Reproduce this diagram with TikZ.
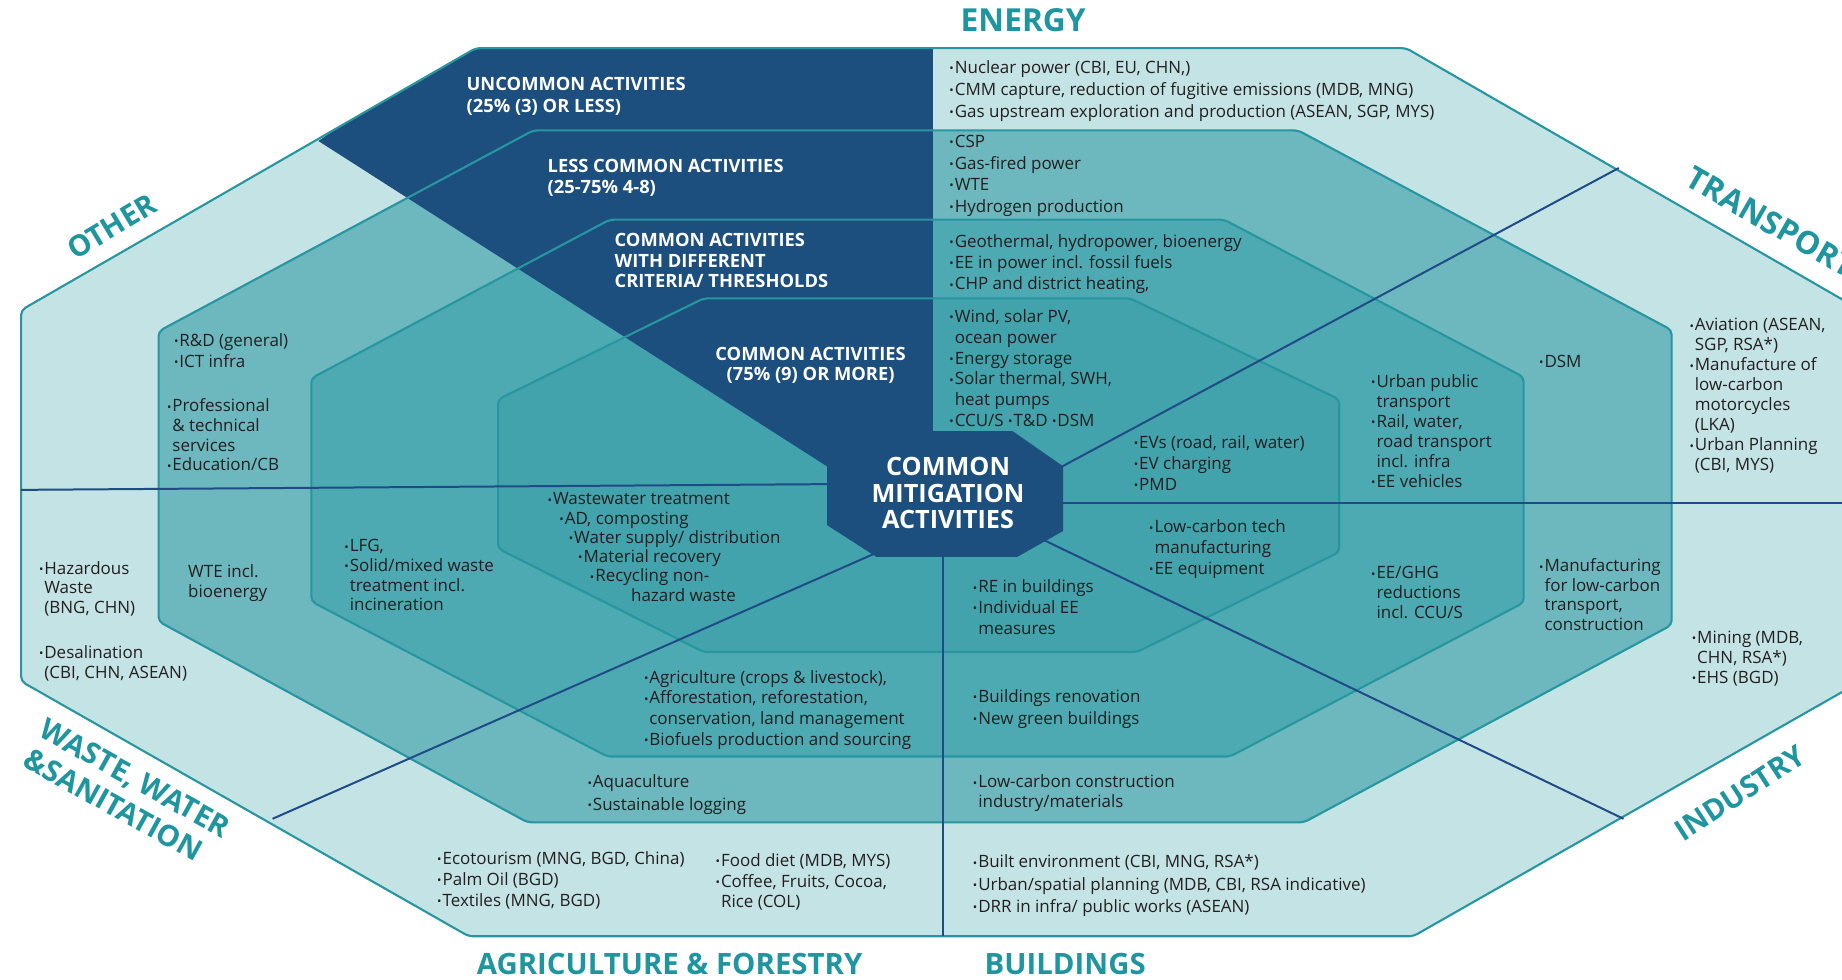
\documentclass[tikz,border=0pt]{standalone}
\usepackage{fontspec}
\setmainfont{Open Sans}
\newfontfamily\hfont{Open Sans}
\definecolor{octL}{HTML}{C4E3E5}
\definecolor{octM}{HTML}{6CB8BE}
\definecolor{octD}{HTML}{4DAAB2}
\definecolor{octI}{HTML}{42A3AC}
\definecolor{darkband}{HTML}{1C4E7E}
\definecolor{octedge}{HTML}{2796A0}
\definecolor{divblue}{HTML}{1F4C86}
\definecolor{sectorteal}{HTML}{1E959F}
\definecolor{bodytext}{HTML}{231F20}
\newcommand\bul{{\raisebox{0.6pt}{\fontsize{10}{10}\selectfont •}}\kern0.8pt}
\newcommand\bulsp{\hphantom{\bul}}
\newcommand\mystrut{\rule{0pt}{12pt}}
% block: [baselineskip]{name}{x}{y of first line centre}{text}
\newcommand\blk[5][17.5]{\node[body, font=\fontsize{14.45}{#1}\selectfont, name=#2] at (#3,{#4-7.5}) {\mystrut#5};}
\newcommand\lgd[5][18]{\node[legend, font=\hfont\bfseries\fontsize{15.6}{#1}\selectfont, name=#2] at (#3,{#4-6.4}) {\mystrut#5};}
\begin{document}
\begin{tikzpicture}[x=1pt,y=-1pt,
  octline/.style={draw=octedge, line width=1.8pt, rounded corners=4pt},
  octfill/.style={rounded corners=4pt},
  divider/.style={draw=divblue, line width=1.7pt},
  body/.style={text=bodytext, align=left, anchor=north west, inner sep=0pt},
  legend/.style={text=white, align=left, anchor=north west, inner sep=0pt},
  sector/.style={font=\hfont\bfseries\fontsize{25}{30}\selectfont, text=sectorteal, inner sep=0pt, align=left},
]
\useasboundingbox (0,0) rectangle (1568,834);
\clip (0,0) rectangle (1568,834);

% octagon vertices
\coordinate (o1a) at (18,264);  \coordinate (o1b) at (405,41);  \coordinate (o1c) at (1197,41);  \coordinate (o1d) at (1584,264);
\coordinate (o1e) at (1584,580);\coordinate (o1f) at (1203,797);\coordinate (o1g) at (399,797);  \coordinate (o1h) at (18,580);
\coordinate (o2a) at (135,282); \coordinate (o2b) at (454,111); \coordinate (o2c) at (1105,111); \coordinate (o2d) at (1423,281);
\coordinate (o2e) at (1423,532);\coordinate (o2f) at (1110,700);\coordinate (o2g) at (449,700);  \coordinate (o2h) at (135,529);
\coordinate (o3a) at (265,322); \coordinate (o3b) at (519,187); \coordinate (o3c) at (1042,187); \coordinate (o3d) at (1297,321);
\coordinate (o3e) at (1297,513);\coordinate (o3f) at (1047,644);\coordinate (o3g) at (517,644);  \coordinate (o3h) at (265,512);
\coordinate (o4a) at (424,340); \coordinate (o4b) at (599,254); \coordinate (o4c) at (962,254);  \coordinate (o4d) at (1140,340);
\coordinate (o4e) at (1140,470);\coordinate (o4f) at (968,555); \coordinate (o4g) at (599,555);  \coordinate (o4h) at (424,467);
\coordinate (c1) at (704,397); \coordinate (c2) at (746,367); \coordinate (c3) at (862,367); \coordinate (c4) at (905,397);
\coordinate (c5) at (905,452); \coordinate (c6) at (866,474); \coordinate (c7) at (746,474); \coordinate (c8) at (704,447);

% fills
\fill[octL, octfill] (o1a) -- (o1b) -- (o1c) -- (o1d) -- (o1e) -- (o1f) -- (o1g) -- (o1h) -- cycle;
\fill[octM, octfill] (o2a) -- (o2b) -- (o2c) -- (o2d) -- (o2e) -- (o2f) -- (o2g) -- (o2h) -- cycle;
\fill[octD, octfill] (o3a) -- (o3b) -- (o3c) -- (o3d) -- (o3e) -- (o3f) -- (o3g) -- (o3h) -- cycle;
\fill[octI, octfill] (o4a) -- (o4b) -- (o4c) -- (o4d) -- (o4e) -- (o4f) -- (o4g) -- (o4h) -- cycle;

% dark legend band
\begin{scope}
\clip[octfill] (o1a) -- (o1b) -- (o1c) -- (o1d) -- (o1e) -- (o1f) -- (o1g) -- (o1h) -- cycle;
\fill[darkband] (271,120) -- (405,30) -- (794,30) -- (794,380) -- (c1) -- cycle;
\end{scope}

% outlines
\draw[octline] (o4a) -- (o4b) -- (o4c) -- (o4d) -- (o4e) -- (o4f) -- (o4g) -- (o4h) -- cycle;
\draw[octline] (o3a) -- (o3b) -- (o3c) -- (o3d) -- (o3e) -- (o3f) -- (o3g) -- (o3h) -- cycle;
\draw[octline] (o2a) -- (o2b) -- (o2c) -- (o2d) -- (o2e) -- (o2f) -- (o2g) -- (o2h) -- cycle;
\draw[octline] (o1a) -- (o1b) -- (o1c) -- (o1d) -- (o1e) -- (o1f) -- (o1g) -- (o1h) -- cycle;

% sector dividers
\coordinate (dL0) at (720,412);  \coordinate (dL1) at (18,417);
\coordinate (dR0) at (890,428);  \coordinate (dR1) at (1584,428);
\coordinate (dB0) at (803,460);  \coordinate (dB1) at (803,797);
\coordinate (dUR0) at (880,410); \coordinate (dUR1) at (1378,143);
\coordinate (dLR0) at (860,446); \coordinate (dLR1) at (1382,697);
\coordinate (dLL0) at (770,460); \coordinate (dLL1) at (232,697);
\draw[divider] (dL0) -- (dL1);
\draw[divider] (dR0) -- (dR1);
\draw[divider] (dB0) -- (dB1);
\draw[divider] (dUR0) -- (dUR1);
\draw[divider] (dLR0) -- (dLR1);
\draw[divider] (dLL0) -- (dLL1);

% centre octagon
\fill[darkband] (c1) -- (c2) -- (c3) -- (c4) -- (c5) -- (c6) -- (c7) -- (c8) -- cycle;
\node[font=\hfont\bfseries\fontsize{21.5}{22.5}\selectfont, text=white, align=center, inner sep=0pt] (centre) at (807,420) {COMMON\\MITIGATION\\ACTIVITIES};

% legend labels
\lgd[18.5]{lg1}{397}{71.5}{UNCOMMON ACTIVITIES\\(25\% (3) OR LESS)}
\lgd[18]{lg2}{466}{141}{LESS COMMON ACTIVITIES\\(25-75\% 4-8)}
\lgd[17.5]{lg3}{523}{204}{COMMON ACTIVITIES\\WITH DIFFERENT\\CRITERIA/ THRESHOLDS}
\node[legend, anchor=north, align=center, font=\hfont\bfseries\fontsize{15.6}{17}\selectfont] (lg4) at (690,{301-6.4}) {\mystrut COMMON ACTIVITIES\\(75\% (9) OR MORE)};

% sector titles
\node[sector, font=\hfont\bfseries\fontsize{27}{30}\selectfont] (energy) at (871,17) {ENERGY};
\node[sector, anchor=base west, rotate=-30, font=\hfont\bfseries\fontsize{27}{30}\selectfont] (transport) at (1433,157) {TRANSPORT};
\node[sector, rotate=31] (other) at (95,193) {OTHER};
\node[sector, rotate=-29, font=\hfont\bfseries\fontsize{25}{29}\selectfont] (waste) at (108,675) {WASTE, WATER\\\&SANITATION};
\node[sector, rotate=33] (industry) at (1481,675) {INDUSTRY};
\node[sector] (agri) at (570,821) {AGRICULTURE \& FORESTRY};
\node[sector, anchor=west] (buildings) at (838,821) {BUILDINGS};

% energy
\blk[18.5]{e1}{808}{58}{\bul Nuclear power (CBI, EU, CHN,)\\\bul CMM capture, reduction of fugitive emissions (MDB, MNG)\\\bul Gas upstream exploration and production (ASEAN, SGP, MYS)}
\blk[18.3]{e2}{808}{121}{\bul CSP\\\bul Gas-fired power\\\bul WTE\\\bul Hydrogen production}
\blk[18]{e3}{808}{206}{\bul Geothermal, hydropower, bioenergy\\\bul EE in power incl. fossil fuels\\\bul CHP and district heating,}
\blk[17.6]{e4}{808}{270}{\bul Wind, solar PV,\\\bulsp ocean power\\\bul Energy storage\\\bul Solar thermal, SWH,\\\bulsp heat pumps\\\bul CCU/S \bul T\&D \bul DSM}

% transport
\blk[18]{t4}{965}{377}{\bul EVs (road, rail, water)\\\bul EV charging\\\bul PMD}
\blk[17]{t3}{1167}{325}{\bul Urban public\\\bulsp transport\\\bul Rail, water,\\\bulsp road transport\\\bulsp incl. infra\\\bul EE vehicles}
\blk{t2}{1310}{308}{\bul DSM}
\blk[17]{t1}{1438}{277}{\bul Aviation (ASEAN,\\\bulsp SGP, RSA*)\\\bul Manufacture of\\\bulsp low-carbon\\\bulsp motorcycles\\\bulsp (LKA)\\\bul Urban Planning\\\bulsp (CBI, MYS)}

% industry
\blk[17.5]{i4}{978}{449}{\bul Low-carbon tech\\\bulsp manufacturing\\\bul EE equipment}
\blk[17]{i3}{1167}{488}{\bul EE/GHG\\\bulsp reductions\\\bulsp incl. CCU/S}
\blk[16.7]{i2}{1310}{482}{\bul Manufacturing\\\bulsp for low-carbon\\\bulsp transport,\\\bulsp construction}
\blk[17]{i1}{1440}{543}{\bul Mining (MDB,\\\bulsp CHN, RSA*)\\\bul EHS (BGD)}

% buildings
\blk[17.5]{b4}{828}{500}{\bul RE in buildings\\\bul Individual EE\\\bulsp measures}
\blk[19]{b3}{828}{593}{\bul Buildings renovation\\\bul New green buildings}
\blk[17]{b2}{828}{666}{\bul Low-carbon construction\\\bulsp industry/materials}
\blk[19]{b1}{828}{734}{\bul Built environment (CBI, MNG, RSA*)\\\bul Urban/spatial planning (MDB, CBI, RSA indicative)\\\bul DRR in infra/ public works (ASEAN)}

% agriculture
\blk[17.5]{a3}{548}{577}{\bul Agriculture (crops \& livestock),\\\bul Afforestation, reforestation,\\\bulsp conservation, land management\\\bul Biofuels production and sourcing}
\blk[19]{a2}{500}{666}{\bul Aquaculture\\\bul Sustainable logging}
\blk[18]{a1}{372}{731}{\bul Ecotourism (MNG, BGD, China)\\\bul Palm Oil (BGD)\\\bul Textiles (MNG, BGD)}
\blk[17.5]{a1b}{609}{733}{\bul Food diet (MDB, MYS)\\\bul Coffee, Fruits, Cocoa,\\\bulsp Rice (COL)}

% waste
\blk[16.4]{w4}{466}{425}{\bul Wastewater treatment\\\hspace*{10pt}\bul AD, composting\\\hspace*{18pt}\bul Water supply/ distribution\\\hspace*{26pt}\bul Material recovery\\\hspace*{36pt}\bul Recycling non-\\\hspace*{71pt}hazard waste}
\blk[16.7]{w3}{293}{465}{\bul LFG,\\\bul Solid/mixed waste\\\bulsp treatment incl.\\\bulsp incineration}
\blk[16.5]{w2}{160}{487}{WTE incl.\\bioenergy}
\blk[16.7]{w1}{33}{484}{\bul Hazardous\\\bulsp Waste\\\bulsp (BNG, CHN)}
\blk[17]{w1b}{33}{556}{\bul Desalination\\\bulsp (CBI, CHN, ASEAN)}

% other
\blk[18]{x1}{148}{290}{\bul R\&D (general)\\\bul ICT infra}
\blk[16.7]{x2}{142}{346}{\bul Professional\\\bulsp \& technical\\\bulsp services\\\bul Education/CB}
\end{tikzpicture}
\end{document}
